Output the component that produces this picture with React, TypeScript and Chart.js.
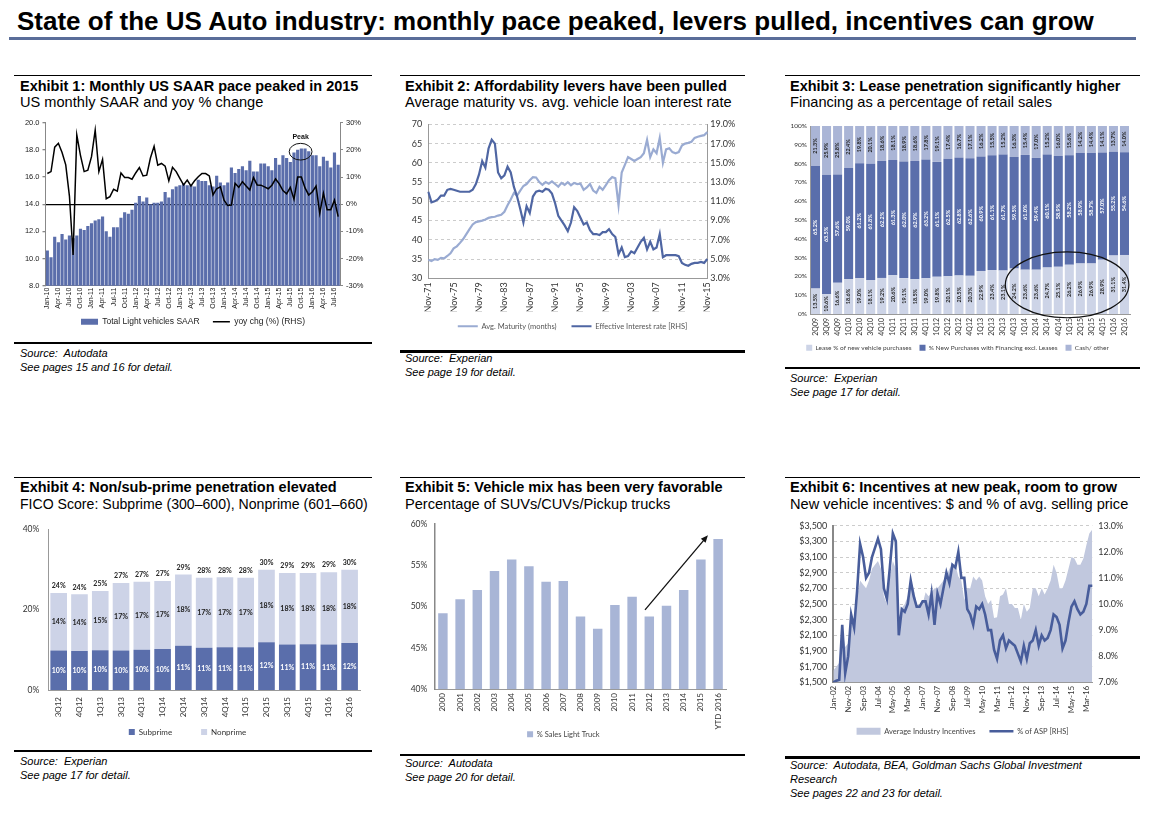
import React, { useEffect, useRef } from "react";
import { Chart, registerables } from "chart.js";

Chart.register(...registerables);

const SANS = "'Liberation Sans', Arial, Helvetica, sans-serif";
const LATO = "Lato, 'Liberation Sans', Arial, sans-serif";
const MONTHS = ["Jan", "Feb", "Mar", "Apr", "May", "Jun", "Jul", "Aug", "Sep", "Oct", "Nov", "Dec"];

function monthSeries(year: number, month: number, count: number, step: number): string[] {
  const out: string[] = [];
  for (let i = 0; i < count; i++) {
    const m = month + i * step;
    const y = year + Math.floor(m / 12);
    out.push(MONTHS[m % 12] + "-" + String(y % 100).padStart(2, "0"));
  }
  return out;
}

// ---------- Exhibit 1 : SAAR ----------
const saarMonths = monthSeries(2010, 0, 80, 1);
const saarValues = [
  10.6, 10.1, 11.6, 11.2, 11.8, 11.4, 11.7, 11.5, 11.7, 12.2, 12.1, 12.4,
  12.6, 12.8, 12.9, 13.1, 12.0, 11.6, 12.3, 12.3, 13.0, 13.4, 13.3, 13.6,
  14.1, 14.6, 14.2, 14.5, 14.0, 14.1, 14.1, 14.2, 14.9, 14.5, 15.1, 15.3,
  15.4, 15.5, 15.4, 15.4, 15.3, 15.8, 15.7, 15.7, 15.4, 15.3, 16.1, 15.6,
  15.4, 15.6, 16.7, 16.3, 16.6, 16.8, 16.5, 17.2, 16.4, 16.4, 17.0, 17.0,
  16.8, 16.5, 17.4, 16.9, 17.6, 17.4, 17.1, 17.8, 18.0, 18.1, 18.1, 17.9,
  17.6, 17.6, 16.8, 17.5, 17.2, 16.7, 17.8, 16.9,
];
const yoyChange = [
  11.3, 12.0, 21.0, 22.4, 19.0, 14.5, 3.0, -18.7, 25.5, 18.0, 12.0, 12.5,
  17.5, 27.3, 12.0, 16.5, 2.0, 2.8, 5.5, 4.8, 11.5, 9.8, 9.8, 9.2,
  11.5, 13.5, 10.4, 10.7, 17.0, 21.3, 14.4, 15.0, 14.0, 8.6, 13.6, 12.0,
  9.5, 7.1, 8.9, 6.7, 8.6, 10.1, 11.3, 11.3, 10.4, 3.4, 5.7, 6.4,
  1.5, -0.5, -0.3, 7.7, 6.2, 8.3, 6.7, 5.2, 9.8, 7.1, 7.0, 6.4,
  5.7, 7.0, 9.3, 7.5, 5.0, 3.8, 6.2, 1.8, 10.0, 10.0, 6.0, 3.4,
  4.6, 6.7, -3.4, 4.0, -2.0, -2.0, 1.5, -4.6,
];
const peakMark = { fromIndex: 65.7, toIndex: 71.9, low: 17.25, high: 18.48, textAt: 18.92 };

// ---------- Exhibit 2 : maturity vs rate ----------
const maturityDates = monthSeries(1971, 10, 89, 6);
const avgMaturity = [
  34.8, 34.5, 35.0, 34.8, 35.3, 35.2, 35.8, 36.5, 37.8, 38.3,
  39.2, 40.2, 41.5, 42.8, 44.0, 44.6, 44.8, 45.0, 45.3, 45.7,
  45.9, 46.0, 46.3, 46.5, 47.3, 49.0, 50.5, 52.2, 51.5, 52.8,
  54.0, 54.5, 55.5, 56.3, 56.2, 55.0, 54.3, 55.0, 54.6, 55.2,
  54.5, 53.8, 54.8, 54.3, 55.0, 54.2, 54.8, 54.5, 54.6, 53.0,
  53.6, 54.5, 52.8, 52.2, 53.8, 53.0, 54.2, 55.5, 56.3, 56.0,
  49.0, 57.5, 59.5, 61.5, 61.0, 60.5, 61.0, 61.5, 62.5, 66.0,
  61.5, 63.5, 62.5, 66.5, 60.0, 63.5, 63.8, 62.8, 62.5, 62.8,
  64.5, 65.0, 65.2, 65.5, 66.5, 66.8, 67.0, 67.2, 68.0,
];
const interestRate = [
  12.0, 10.9, 11.0, 11.2, 11.6, 11.6, 12.2, 12.3, 12.2, 12.1,
  12.0, 12.0, 12.0, 12.0, 12.2, 12.8, 13.8, 15.2, 14.5, 16.5,
  17.4, 17.0, 14.0, 13.4, 13.7, 14.6, 14.0, 12.5, 11.5, 10.2,
  8.8, 10.5, 9.8, 11.5, 12.0, 12.1, 12.0, 12.3, 12.2, 11.8,
  10.8, 9.5, 9.0, 8.5, 7.9, 8.8, 10.4, 10.0, 9.3, 8.6,
  8.8, 8.0, 7.6, 7.6, 7.5, 7.8, 7.8, 8.1, 7.6, 7.3,
  5.5, 6.2, 5.2, 5.3, 5.8, 5.6, 6.2, 6.8, 7.2, 6.0,
  6.8, 6.0, 6.2, 7.6, 5.2, 5.4, 5.4, 5.4, 5.4, 5.3,
  4.6, 4.4, 4.3, 4.5, 4.6, 4.6, 4.7, 4.6, 5.0,
];

// ---------- Exhibit 3 : financing mix ----------
const leaseQuarters = [
  "2Q09", "3Q09", "4Q09", "1Q10", "2Q10", "3Q10", "4Q10", "1Q11", "2Q11", "3Q11",
  "4Q11", "1Q12", "2Q12", "3Q12", "4Q12", "1Q13", "2Q13", "3Q13", "4Q13", "1Q14",
  "2Q14", "3Q14", "4Q14", "1Q15", "2Q15", "3Q15", "4Q15", "1Q16", "2Q16",
];
const leasePct = [
  13.5, 10.6, 16.6, 18.6, 19.0, 18.1, 19.2, 20.6, 19.1, 18.5,
  19.0, 19.8, 20.1, 20.5, 20.3, 22.9, 23.4, 23.1, 24.2, 23.6,
  23.6, 24.7, 25.1, 26.2, 26.9, 26.9, 28.9, 31.1, 31.4,
];
const financingPct = [
  65.2, 63.5, 57.6, 59.0, 61.2, 61.8, 62.2, 61.3, 62.0, 62.9,
  63.2, 61.1, 62.5, 62.8, 62.6, 60.9, 61.1, 61.7, 59.5, 61.0,
  59.4, 60.1, 58.9, 58.2, 58.9, 58.7, 57.0, 55.2, 54.6,
];
const cashPct = [
  21.3, 25.9, 25.8, 22.4, 19.8, 20.1, 18.6, 18.1, 18.9, 18.6,
  17.8, 19.1, 17.4, 16.7, 17.1, 16.2, 15.5, 15.2, 16.3, 15.4,
  17.0, 15.2, 16.0, 15.6, 14.2, 14.4, 14.1, 13.7, 14.0,
];
const leaseCircle = { fromIndex: 17.2, toIndex: 28.4, low: -2, high: 33 };

// ---------- Exhibit 4 : FICO ----------
const ficoQuarters = ["3Q12", "4Q12", "1Q13", "3Q13", "4Q13", "1Q14", "2Q14", "3Q14", "4Q14", "1Q15", "2Q15", "3Q15", "4Q15", "1Q16", "2Q16"];
const subprime = [9.8, 9.7, 9.9, 9.8, 10.0, 10.2, 11.0, 10.5, 10.6, 10.6, 11.9, 11.3, 11.4, 11.3, 11.7];
const nonprime = [14.3, 14.1, 14.7, 16.8, 16.9, 16.9, 17.7, 17.4, 17.4, 17.3, 18.0, 17.8, 17.7, 18.0, 18.2];

// ---------- Exhibit 5 : light truck share ----------
const mixYears = ["2000", "2001", "2002", "2003", "2004", "2005", "2006", "2007", "2008", "2009", "2010", "2011", "2012", "2013", "2014", "2015", "YTD 2016"];
const lightTruckShare = [49.2, 50.9, 52.0, 54.3, 55.7, 54.9, 53.0, 53.1, 48.8, 47.3, 50.2, 51.2, 48.8, 50.1, 52.0, 55.7, 58.2];
const trendArrow = { fromIndex: 11.75, fromValue: 49.6, toIndex: 15.41, toValue: 58.65 };

// ---------- Exhibit 6 : incentives ----------
const incentiveDates = monthSeries(2002, 0, 88, 2);
const avgIncentives = [
  1650, 1700, 1750, 2150, 1950, 2000, 2300, 2300, 2600, 2800,
  2750, 2700, 2800, 2950, 3000, 3050, 2950, 2600, 2500, 2850,
  3050, 2950, 2300, 2450, 2500, 2600, 2800, 2700, 2500, 2450,
  2500, 2650, 2600, 2650, 2700, 2700, 2750, 2800, 2850, 2950,
  3000, 3000, 2850, 2800, 2550, 2700, 2700, 2850, 2800, 2850,
  2800, 2600, 2500, 2550, 2320, 2330, 2600, 2620, 2700, 2500,
  2500, 2450, 2450, 2300, 2500, 2400, 2450, 2700, 2700, 2600,
  2700, 2620, 2700, 2800, 3000, 2900, 2700, 2700, 2800, 2950,
  3100, 3080, 3000, 3000, 3080, 3250, 3400, 3450,
];
const pctOfAsp = [
  7.0, 7.06, 7.1, 9.2, 7.35, 8.0, 9.6, 9.1, 10.5, 12.3,
  11.8, 11.0, 11.2, 11.8, 12.15, 12.5, 12.1, 10.6, 10.2, 11.4,
  12.7, 12.4, 8.8, 9.8, 9.7, 10.0, 10.9, 10.3, 9.9, 9.9,
  10.1, 10.1, 9.6, 10.4, 9.2, 10.4, 10.0, 10.6, 11.2, 10.8,
  11.5, 11.4, 12.0, 11.0, 11.0, 9.8, 9.6, 9.2, 9.9, 9.8,
  10.0, 9.6, 9.0, 9.0, 8.25, 7.9, 8.6, 8.8, 8.3, 8.6,
  8.5, 8.4, 8.1, 7.8, 8.4, 7.9, 8.5, 8.6, 9.0, 8.4,
  8.8, 8.6, 8.7, 9.0, 9.6, 9.5, 9.2, 8.3, 8.6, 9.3,
  9.9, 10.1, 9.8, 9.6, 9.7, 10.0, 10.7, 10.7,
];

// ---------- helpers / plugins ----------
function legendItems(gap: string) {
  return (chart: any) => {
    const items = (Chart.defaults as any).plugins.legend.labels.generateLabels(chart);
    items.sort((a: any, b: any) => a.datasetIndex - b.datasetIndex);
    items.forEach((it: any, i: number) => {
      if (i < items.length - 1) it.text = it.text + gap;
    });
    return items;
  };
}

const peakPlugin = {
  id: "peakMark",
  afterDatasetsDraw(chart: any) {
    const { ctx } = chart;
    const x = chart.scales.x;
    const y = chart.scales.y;
    const x0 = x.getPixelForValue(peakMark.fromIndex);
    const x1 = x.getPixelForValue(peakMark.toIndex);
    const yt = y.getPixelForValue(peakMark.high);
    const yb = y.getPixelForValue(peakMark.low);
    ctx.save();
    ctx.beginPath();
    ctx.ellipse((x0 + x1) / 2, (yt + yb) / 2, (x1 - x0) / 2, (yb - yt) / 2, 0, 0, Math.PI * 2);
    ctx.strokeStyle = "#111";
    ctx.lineWidth = 1;
    ctx.stroke();
    ctx.fillStyle = "#111";
    ctx.font = "bold 7px " + SANS;
    ctx.textAlign = "center";
    ctx.textBaseline = "middle";
    ctx.fillText("Peak", (x0 + x1) / 2, y.getPixelForValue(peakMark.textAt));
    ctx.restore();
  },
};

const leaseLabelPlugin = {
  id: "leaseLabels",
  afterDatasetsDraw(chart: any) {
    const { ctx } = chart;
    ctx.save();
    ctx.font = "bold 5.5px " + LATO;
    ctx.textAlign = "center";
    ctx.textBaseline = "middle";
    chart.data.datasets.forEach((ds: any, di: number) => {
      const meta = chart.getDatasetMeta(di);
      meta.data.forEach((bar: any, i: number) => {
        const v = ds.data[i];
        const yc = (bar.y + bar.base) / 2;
        ctx.save();
        ctx.translate(bar.x, yc);
        ctx.rotate(-Math.PI / 2);
        ctx.fillStyle = di === 1 ? "#ffffff" : "#222";
        ctx.fillText(v.toFixed(1) + "%", 0, 0);
        ctx.restore();
      });
    });
    const x = chart.scales.x;
    const y = chart.scales.y;
    const x0 = x.getPixelForValue(leaseCircle.fromIndex);
    const x1 = x.getPixelForValue(leaseCircle.toIndex);
    const yt = y.getPixelForValue(leaseCircle.high);
    const yb = y.getPixelForValue(leaseCircle.low);
    ctx.beginPath();
    ctx.ellipse((x0 + x1) / 2, (yt + yb) / 2, (x1 - x0) / 2, (yb - yt) / 2, 0, 0, Math.PI * 2);
    ctx.strokeStyle = "#111";
    ctx.lineWidth = 1.2;
    ctx.stroke();
    ctx.restore();
  },
};

const ficoLabelPlugin = {
  id: "ficoLabels",
  afterDatasetsDraw(chart: any) {
    const { ctx } = chart;
    ctx.save();
    ctx.font = "bold 7px " + LATO;
    ctx.textAlign = "center";
    ctx.textBaseline = "middle";
    const m0 = chart.getDatasetMeta(0);
    const m1 = chart.getDatasetMeta(1);
    m0.data.forEach((bar: any, i: number) => {
      ctx.fillStyle = "#ffffff";
      ctx.fillText(Math.round(subprime[i]) + "%", bar.x, (bar.y + bar.base) / 2);
      const top = m1.data[i];
      ctx.fillStyle = "#222";
      ctx.fillText(Math.round(nonprime[i]) + "%", top.x, (top.y + top.base) / 2);
      const total = Math.round(Math.round((subprime[i] + nonprime[i]) * 10) / 10);
      ctx.fillText(total + "%", top.x, top.y - 7);
    });
    ctx.restore();
  },
};

const arrowPlugin = {
  id: "trendArrow",
  afterDatasetsDraw(chart: any) {
    const { ctx } = chart;
    const x = chart.scales.x;
    const y = chart.scales.y;
    const ax = x.getPixelForValue(trendArrow.fromIndex);
    const ay = y.getPixelForValue(trendArrow.fromValue);
    const bx = x.getPixelForValue(trendArrow.toIndex);
    const by = y.getPixelForValue(trendArrow.toValue);
    const ang = Math.atan2(by - ay, bx - ax);
    ctx.save();
    ctx.strokeStyle = "#111";
    ctx.fillStyle = "#111";
    ctx.lineWidth = 1.3;
    ctx.beginPath();
    ctx.moveTo(ax, ay);
    ctx.lineTo(bx - Math.cos(ang) * 5, by - Math.sin(ang) * 5);
    ctx.stroke();
    ctx.beginPath();
    ctx.moveTo(bx, by);
    ctx.lineTo(bx - Math.cos(ang - 0.4) * 8, by - Math.sin(ang - 0.4) * 8);
    ctx.lineTo(bx - Math.cos(ang + 0.4) * 8, by - Math.sin(ang + 0.4) * 8);
    ctx.closePath();
    ctx.fill();
    ctx.restore();
  },
};

// ---------- configs ----------
const noTip = { enabled: false };

function cfg1(): any {
  return {
    type: "bar",
    data: {
      labels: saarMonths,
      datasets: [
        { type: "bar", label: "Total Light vehicles SAAR", data: saarValues, yAxisID: "y", backgroundColor: "#5b6eab", borderWidth: 0, barPercentage: 0.86, categoryPercentage: 1, order: 2, pointStyle: "rect" },
        { type: "line", label: "yoy chg (%) (RHS)", data: yoyChange, yAxisID: "y1", borderColor: "#000", backgroundColor: "#000", borderWidth: 1.5, pointRadius: 0, tension: 0, order: 1, pointStyle: "line" },
      ],
    },
    options: {
      responsive: false,
      animation: false,
      layout: { padding: { top: 9.7, left: 0, right: 0, bottom: 0 } },
      plugins: {
        tooltip: noTip,
        legend: { position: "bottom", labels: { usePointStyle: true, pointStyleWidth: 17, boxHeight: 6, padding: 4.8, color: "#222", font: { size: 8.5, family: SANS }, generateLabels: legendItems("\u2002\u2002") } },
      },
      scales: {
        x: {
          offset: true,
          grid: { display: false, drawTicks: false },
          border: { display: true, color: "#888" },
          ticks: { autoSkip: false, minRotation: 90, maxRotation: 90, padding: 2, color: "#222", font: { size: 7, family: SANS }, callback: (_v: any, i: number) => (i % 3 === 0 ? saarMonths[i] : "") },
          afterFit: (s: any) => { s.height = 27; },
        },
        y: {
          position: "left", min: 8, max: 20, z: 1,
          ticks: { stepSize: 2, padding: 3, color: "#222", font: { size: 7.5, family: SANS }, callback: (v: any) => Number(v).toFixed(1) },
          grid: { drawOnChartArea: true, drawTicks: true, tickLength: 3, tickColor: "#888", lineWidth: 1.3, color: (c: any) => (c.tick && c.tick.value === 14 ? "#000" : "rgba(0,0,0,0)") },
          border: { display: true, color: "#888" },
          afterFit: (s: any) => { s.width = 31.5; },
        },
        y1: {
          position: "right", min: -30, max: 30,
          ticks: { stepSize: 10, padding: 3, color: "#222", font: { size: 7.5, family: SANS }, callback: (v: any) => v + "%" },
          grid: { drawOnChartArea: false, drawTicks: true, tickLength: 3, tickColor: "#888" },
          border: { display: true, color: "#888" },
          afterFit: (s: any) => { s.width = 32; },
        },
      },
    },
    plugins: [peakPlugin],
  };
}

function cfg2(): any {
  return {
    type: "line",
    data: {
      labels: maturityDates,
      datasets: [
        { label: "Avg. Maturity (months)", data: avgMaturity, yAxisID: "y", borderColor: "#9aabd2", backgroundColor: "#9aabd2", borderWidth: 2.2, pointRadius: 0, tension: 0, pointStyle: "line", order: 2 },
        { label: "Effective Interest rate [RHS]", data: interestRate, yAxisID: "y1", borderColor: "#4f66a3", backgroundColor: "#4f66a3", borderWidth: 2.2, pointRadius: 0, tension: 0, pointStyle: "line", order: 1 },
      ],
    },
    options: {
      responsive: false,
      animation: false,
      layout: { padding: { top: 11, left: 0, right: 0, bottom: 0 } },
      plugins: {
        tooltip: noTip,
        legend: { position: "bottom", labels: { usePointStyle: true, pointStyleWidth: 20, boxHeight: 6, padding: 11.2, color: "#555", font: { size: 7.5, family: LATO }, generateLabels: legendItems("\u2002") } },
      },
      scales: {
        x: {
          offset: false,
          grid: { display: false, drawTicks: false },
          border: { display: true, color: "#999" },
          ticks: { autoSkip: false, minRotation: 90, maxRotation: 90, padding: 4, color: "#333", font: { size: 9, family: LATO }, callback: (_v: any, i: number) => (i % 8 === 0 ? maturityDates[i] : "") },
          afterFit: (s: any) => { s.height = 33; },
        },
        y: {
          position: "left", min: 30, max: 70,
          ticks: { stepSize: 5, padding: 6, color: "#333", font: { size: 9, family: LATO } },
          grid: { drawTicks: false, color: "#cccccc", lineWidth: 1 },
          border: { display: true, color: "#999", dash: [3, 3] },
          afterFit: (s: any) => { s.width = 28.3; },
        },
        y1: {
          position: "right", min: 3, max: 19,
          ticks: { stepSize: 2, padding: 3, color: "#333", font: { size: 9, family: LATO }, callback: (v: any) => Number(v).toFixed(1) + "%" },
          grid: { drawOnChartArea: false, drawTicks: false },
          border: { display: true, color: "#999" },
          afterFit: (s: any) => { s.width = 37.7; },
        },
      },
    },
  };
}

function cfg3(): any {
  return {
    type: "bar",
    data: {
      labels: leaseQuarters,
      datasets: [
        { label: "Lease % of new vehicle purchases", data: leasePct, backgroundColor: "#cdd4e7", borderWidth: 0, barPercentage: 0.82, categoryPercentage: 1 },
        { label: "% New Purchases with Financing excl. Leases", data: financingPct, backgroundColor: "#5a6eab", borderWidth: 0, barPercentage: 0.82, categoryPercentage: 1 },
        { label: "Cash/ other", data: cashPct, backgroundColor: "#aab5d6", borderWidth: 0, barPercentage: 0.82, categoryPercentage: 1 },
      ],
    },
    options: {
      responsive: false,
      animation: false,
      layout: { padding: { top: 11, left: 0, right: 10, bottom: 0 } },
      plugins: {
        tooltip: noTip,
        legend: { position: "bottom", labels: { boxWidth: 6, boxHeight: 6, padding: 8, color: "#444", font: { size: 6.5, family: LATO } } },
      },
      scales: {
        x: {
          stacked: true,
          grid: { display: false, drawTicks: false },
          border: { display: true, color: "#999" },
          ticks: { autoSkip: false, minRotation: 90, maxRotation: 90, padding: 4, color: "#333", font: { size: 7, family: LATO } },
          afterFit: (s: any) => { s.height = 22.5; },
        },
        y: {
          stacked: true, min: 0, max: 100,
          ticks: { stepSize: 10, padding: 3, color: "#333", font: { size: 6.5, family: LATO }, callback: (v: any) => v + "%" },
          grid: { display: false, drawTicks: false },
          border: { display: true, color: "#999" },
          afterFit: (s: any) => { s.width = 25; },
        },
      },
    },
    plugins: [leaseLabelPlugin],
  };
}

function cfg4(): any {
  return {
    type: "bar",
    data: {
      labels: ficoQuarters,
      datasets: [
        { label: "Subprime", data: subprime, backgroundColor: "#5a6eab", borderWidth: 0, barPercentage: 0.8, categoryPercentage: 1 },
        { label: "Nonprime", data: nonprime, backgroundColor: "#cdd3e7", borderWidth: 0, barPercentage: 0.8, categoryPercentage: 1 },
      ],
    },
    options: {
      responsive: false,
      animation: false,
      layout: { padding: { top: 10, left: 0, right: 12, bottom: 0 } },
      plugins: {
        tooltip: noTip,
        legend: { position: "bottom", labels: { boxWidth: 6, boxHeight: 6, padding: 9, color: "#333", font: { size: 8, family: LATO }, generateLabels: legendItems("\u2002\u2002\u2002\u2002\u2002") } },
      },
      scales: {
        x: {
          stacked: true,
          grid: { display: false, drawTicks: false },
          border: { display: true, color: "#999" },
          ticks: { autoSkip: false, minRotation: 90, maxRotation: 90, padding: 7, color: "#333", font: { size: 8, family: LATO } },
          afterFit: (s: any) => { s.height = 29; },
        },
        y: {
          stacked: true, min: 0, max: 40,
          ticks: { stepSize: 20, padding: 9, color: "#333", font: { size: 8.5, family: LATO }, callback: (v: any) => v + "%" },
          grid: { display: false, drawTicks: false },
          border: { display: true, color: "#999" },
          afterFit: (s: any) => { s.width = 33.3; },
        },
      },
    },
    plugins: [ficoLabelPlugin],
  };
}

function cfg5(): any {
  return {
    type: "bar",
    data: {
      labels: mixYears,
      datasets: [
        { label: "% Sales Light Truck", data: lightTruckShare, backgroundColor: "#a8b5d6", borderWidth: 0, barPercentage: 0.55, categoryPercentage: 1 },
      ],
    },
    options: {
      responsive: false,
      animation: false,
      layout: { padding: { top: 10.7, left: 0, right: 18.3, bottom: 0 } },
      plugins: {
        tooltip: noTip,
        legend: { position: "bottom", labels: { boxWidth: 6, boxHeight: 6, padding: 0.5, color: "#444", font: { size: 7.5, family: LATO } } },
      },
      scales: {
        x: {
          grid: { display: false, drawTicks: false },
          border: { display: true, color: "#999" },
          ticks: { autoSkip: false, minRotation: 90, maxRotation: 90, padding: 4, color: "#333", font: { size: 8, family: LATO } },
          afterFit: (s: any) => { s.height = 41; },
        },
        y: {
          min: 40, max: 60,
          ticks: { stepSize: 5, padding: 7, color: "#333", font: { size: 8.5, family: LATO }, callback: (v: any) => v + "%" },
          grid: { display: false, drawTicks: false },
          border: { display: true, color: "#888", width: 1.5 },
          afterFit: (s: any) => { s.width = 34.3; },
        },
      },
    },
    plugins: [arrowPlugin],
  };
}

function cfg6(): any {
  return {
    type: "line",
    data: {
      labels: incentiveDates,
      datasets: [
        { label: "Average Industry Incentives", data: avgIncentives, yAxisID: "y", fill: "start", backgroundColor: "#c1c8de", borderColor: "#c1c8de", borderWidth: 0, pointRadius: 0, tension: 0, pointStyle: "rect", order: 2 },
        { label: "% of ASP [RHS]", data: pctOfAsp, yAxisID: "y1", fill: false, borderColor: "#485d9b", backgroundColor: "#485d9b", borderWidth: 2.6, pointRadius: 0, tension: 0, pointStyle: "line", order: 1 },
      ],
    },
    options: {
      responsive: false,
      animation: false,
      layout: { padding: { top: 13.7, left: 0, right: 0, bottom: 0 } },
      plugins: {
        tooltip: noTip,
        legend: { position: "bottom", labels: { usePointStyle: true, pointStyleWidth: 24, boxHeight: 7, padding: 14, color: "#444", font: { size: 7.5, family: LATO }, generateLabels: legendItems("") } },
      },
      scales: {
        x: {
          offset: false,
          grid: { display: false, drawTicks: false },
          border: { display: true, color: "#999" },
          ticks: { autoSkip: false, minRotation: 90, maxRotation: 90, padding: 3.5, color: "#333", font: { size: 8, family: LATO }, callback: (_v: any, i: number) => (i % 5 === 0 ? incentiveDates[i] : "") },
          afterFit: (s: any) => { s.height = 31.2; },
        },
        y: {
          position: "left", min: 1500, max: 3500,
          ticks: { stepSize: 200, padding: 6, color: "#333", font: { size: 9, family: LATO }, callback: (v: any) => "$" + Number(v).toLocaleString("en-US") },
          grid: { drawTicks: false, color: "#cccccc", lineWidth: 1 },
          border: { display: true, color: "#888", width: 2, dash: [3, 3] },
          afterFit: (s: any) => { s.width = 48.3; },
        },
        y1: {
          position: "right", min: 7, max: 13,
          ticks: { stepSize: 1, padding: 6, color: "#333", font: { size: 9, family: LATO }, callback: (v: any) => Number(v).toFixed(1) + "%" },
          grid: { drawOnChartArea: false, drawTicks: false },
          border: { display: false },
          afterFit: (s: any) => { s.width = 47.7; },
        },
      },
    },
  };
}

// ---------- components ----------
function ChartCanvas(props: { x: number; y: number; w: number; h: number; make: () => any }) {
  const ref = useRef<HTMLCanvasElement | null>(null);
  useEffect(() => {
    const chart = new Chart(ref.current as HTMLCanvasElement, props.make());
    return () => chart.destroy();
  }, []);
  return (
    <canvas
      ref={ref}
      width={props.w}
      height={props.h}
      style={{ position: "absolute", left: props.x, top: props.y, width: props.w, height: props.h }}
    />
  );
}

function Txt(props: { x: number; y: number; size: number; bold?: boolean; italic?: boolean; children: any }) {
  return (
    <div
      style={{
        position: "absolute",
        left: props.x,
        top: props.y - props.size * 0.49,
        fontSize: props.size,
        lineHeight: props.size + "px",
        fontFamily: SANS,
        fontWeight: props.bold ? 700 : 400,
        fontStyle: props.italic ? "italic" : "normal",
        color: "#000",
        whiteSpace: "nowrap",
      }}
    >
      {props.children}
    </div>
  );
}

function Rule(props: { x: number; y: number; w: number; t: number; color?: string }) {
  return <div style={{ position: "absolute", left: props.x, top: props.y - props.t / 2, width: props.w, height: props.t, background: props.color || "#000" }} />;
}

const H1 = 14.5;
const H2 = 14.6;
const SRC = 11;

export default function App() {
  return (
    <div style={{ position: "absolute", left: 0, top: 0, width: 1166, height: 820, background: "#fff", overflow: "hidden" }}>
      <Txt x={17} y={21} size={26} bold>State of the US Auto industry: monthly pace peaked, levers pulled, incentives can grow</Txt>
      <Rule x={9} y={38.5} w={1127} t={2.5} color="#5a6d99" />

      {/* row 1 headers */}
      <Rule x={14} y={75} w={358} t={1} />
      <Rule x={400} y={75} w={345} t={1} />
      <Rule x={785} y={75} w={355} t={1} />
      <Txt x={20} y={86} size={H1} bold>Exhibit 1: Monthly US SAAR pace peaked in 2015</Txt>
      <Txt x={20} y={102} size={H2}>US monthly SAAR and yoy % change</Txt>
      <Txt x={405} y={86} size={H1} bold>Exhibit 2: Affordability levers have been pulled</Txt>
      <Txt x={405} y={102} size={H2}>Average maturity vs. avg. vehicle loan interest rate</Txt>
      <Txt x={790} y={86} size={H1} bold>Exhibit 3: Lease penetration significantly higher</Txt>
      <Txt x={790} y={102} size={H2}>Financing as a percentage of retail sales</Txt>

      <ChartCanvas x={14} y={113} w={358} h={223} make={cfg1} />
      <ChartCanvas x={400} y={113} w={345} h={227} make={cfg2} />
      <ChartCanvas x={785} y={115} w={355} h={246} make={cfg3} />

      {/* row 1 sources */}
      <Rule x={14} y={343} w={358} t={1.5} />
      <Txt x={20} y={353} size={SRC} italic>Source:&nbsp; Autodata</Txt>
      <Txt x={20} y={367} size={SRC} italic>See pages 15 and 16 for detail.</Txt>
      <Rule x={400} y={351} w={345} t={3} />
      <Txt x={405} y={358} size={SRC} italic>Source:&nbsp; Experian</Txt>
      <Txt x={405} y={372} size={SRC} italic>See page 19 for detail.</Txt>
      <Rule x={785} y={368} w={355} t={1.5} />
      <Txt x={790} y={378} size={SRC} italic>Source:&nbsp; Experian</Txt>
      <Txt x={790} y={392} size={SRC} italic>See page 17 for detail.</Txt>

      {/* row 2 headers */}
      <Rule x={14} y={477} w={358} t={1} />
      <Rule x={400} y={477} w={345} t={1} />
      <Rule x={785} y={477} w={355} t={1} />
      <Txt x={20} y={487} size={H1} bold>Exhibit 4: Non/sub-prime penetration elevated</Txt>
      <Txt x={20} y={504} size={14.1}>FICO Score: Subprime (300–600), Nonprime (601–660)</Txt>
      <Txt x={405} y={487} size={H1} bold>Exhibit 5: Vehicle mix has been very favorable</Txt>
      <Txt x={405} y={504} size={H2}>Percentage of SUVs/CUVs/Pickup trucks</Txt>
      <Txt x={790} y={487} size={H1} bold>Exhibit 6: Incentives at new peak, room to grow</Txt>
      <Txt x={790} y={504} size={H2}>New vehicle incentives: $ and % of avg. selling price</Txt>

      <ChartCanvas x={15} y={515} w={357} h={231} make={cfg4} />
      <ChartCanvas x={400} y={512} w={345} h={236} make={cfg5} />
      <ChartCanvas x={785} y={512} w={355} h={233} make={cfg6} />

      {/* row 2 sources */}
      <Rule x={14} y={751} w={358} t={2.5} />
      <Txt x={20} y={761} size={SRC} italic>Source:&nbsp; Experian</Txt>
      <Txt x={20} y={775} size={SRC} italic>See page 17 for detail.</Txt>
      <Rule x={400} y={755} w={345} t={2.5} />
      <Txt x={405} y={763} size={SRC} italic>Source:&nbsp; Autodata</Txt>
      <Txt x={405} y={777} size={SRC} italic>See page 20 for detail.</Txt>
      <Rule x={785} y={757} w={355} t={3} />
      <Txt x={790} y={765} size={SRC} italic>Source:&nbsp; Autodata, BEA, Goldman Sachs Global Investment</Txt>
      <Txt x={790} y={779} size={SRC} italic>Research</Txt>
      <Txt x={790} y={793} size={SRC} italic>See pages 22 and 23 for detail.</Txt>
    </div>
  );
}
